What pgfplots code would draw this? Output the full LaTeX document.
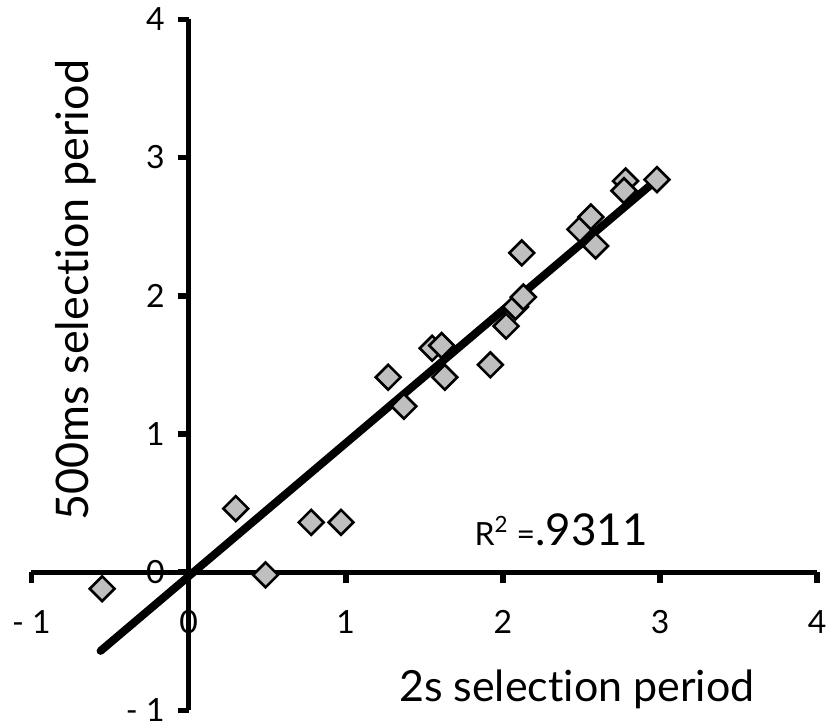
\documentclass[border=0pt]{standalone}
\usepackage{fontspec}
\setmainfont{Lato}[Ligatures=NoCommon]
\usepackage{pgfplots}
\pgfplotsset{compat=1.18}
\begin{document}
\begin{tikzpicture}
\begin{axis}[
  scale only axis,
  width=393.5pt, height=346pt,
  xmin=-1, xmax=4, ymin=-1, ymax=4,
  axis lines=middle,
  axis line style={line width=2.4pt, -},
  tick align=outside,
  major tick length=5.5pt,
  every tick/.style={line width=2.8pt, black},
  hide obscured x ticks=false,
  hide obscured y ticks=false,
  xtick={-1,0,1,2,3,4}, ytick={-1,0,1,2,3,4},
  xticklabels={- 1,0,1,2,3,4}, yticklabels={- 1,0,1,2,3,4},
  xticklabel style={font=\fontsize{16}{16}\selectfont, yshift=-10pt},
  yticklabel style={font=\fontsize{16}{16}\selectfont, xshift=-3pt},
  clip=false,
]
\addplot[only marks, mark=square*, mark size=4.4pt,
  mark options={rotate=45, fill=gray!50, draw=black, line width=1.3pt}]
  coordinates {
  (-0.55,-0.12) (0.30,0.46) (0.49,-0.02) (0.78,0.36) (0.97,0.36)
  (1.27,1.41) (1.37,1.20) (1.55,1.62) (1.61,1.64) (1.63,1.41)
  (1.92,1.50) (2.02,1.78) (2.08,1.92) (2.13,1.99) (2.12,2.31)
  (2.49,2.48) (2.56,2.57) (2.59,2.36) (2.78,2.83) (2.77,2.76)
  (2.98,2.84)
  };
\addplot[black, line width=4pt, line cap=round] coordinates {(-0.56,-0.57) (2.98,2.84)};
\node at (axis cs:2.47,-0.85) {\fontsize{21.5}{21.5}\selectfont 2s selection period};
\node[rotate=90] at (axis cs:-0.72,2.04) {\fontsize{22.5}{22.5}\selectfont 500ms selection period};
\node at (axis cs:2.37,0.31) {{\fontsize{16}{16}\selectfont R\textsuperscript{2} =}{\fontsize{22}{22}\selectfont .9311}};
\coordinate (bl) at (axis cs:-1.2,-1.115);
\coordinate (tr) at (axis cs:4.062,4.14);
\end{axis}
\pgfresetboundingbox
\useasboundingbox (bl) rectangle (tr);
\end{tikzpicture}
\end{document}
